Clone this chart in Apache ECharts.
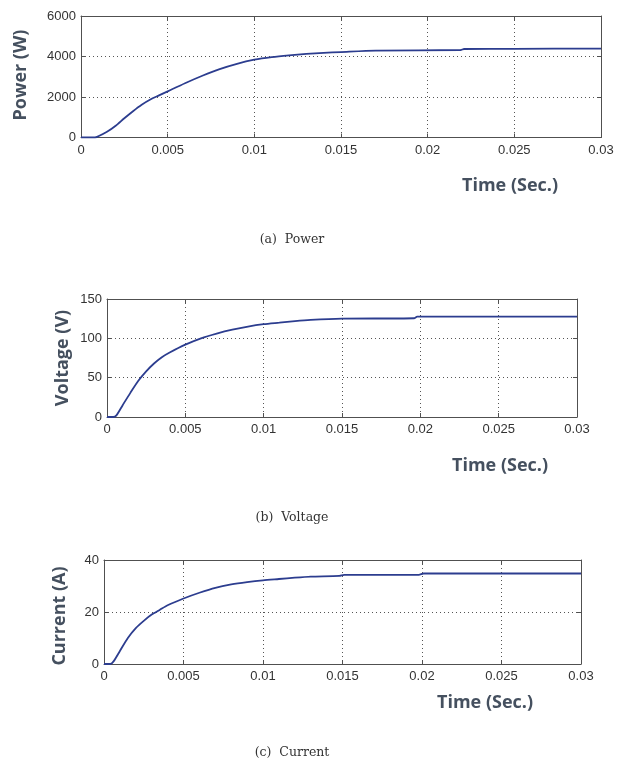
<!DOCTYPE html>
<html>
<head>
<meta charset="utf-8">
<script src="https://cdn.jsdelivr.net/npm/echarts@6/dist/echarts.min.js"></script>
<style>
html,body{margin:0;padding:0;background:#fff;}
#c{width:618px;height:765px;}
</style>
</head>
<body>
<div id="c"></div>
<script>
// ---- data ----
const xTicks = [0, 0.005, 0.01, 0.015, 0.02, 0.025, 0.03];

const timePower = [0, 0.0008, 0.001, 0.0015, 0.002, 0.0025, 0.003, 0.0035, 0.004, 0.0045, 0.005, 0.006, 0.007, 0.008, 0.009, 0.01, 0.011, 0.012, 0.013, 0.014, 0.015, 0.017, 0.0219, 0.0221, 0.025, 0.03];
const power =     [0, 0,      60,    280,    580,   950,    1300,  1620,   1880,  2080,   2280,  2680,  3050,  3380,  3640,  3840, 3970,  4060,  4130,  4180,  4220,  4290,  4320,   4370,   4380,  4390];

const timeVoltage = [0, 0.0004, 0.0006, 0.001, 0.0015, 0.002, 0.0025, 0.003, 0.0035, 0.004, 0.005, 0.006, 0.007, 0.008, 0.009, 0.01, 0.011, 0.012, 0.013, 0.015, 0.0196, 0.0198, 0.03];
const voltage =     [0, 0,      2,      15,    31,     46,    58,     68,    76,     82,    92,    100,   106,   111,   115,   118,  120,   122,   123.5, 125,   125.5,  127.5,  127.5];

const timeCurrent = [0, 0.0004, 0.0006, 0.001, 0.0015, 0.002, 0.0025, 0.003, 0.0035, 0.004, 0.005, 0.006, 0.007, 0.008, 0.009, 0.01, 0.011, 0.012, 0.013, 0.0148, 0.0151, 0.0198, 0.0201, 0.03];
const current =     [0, 0,      1,      5,     10,     13.8,  16.6,   19,    20.8,   22.6,  25.2,  27.4,  29.3,  30.6,  31.5,  32.2, 32.7,  33.2,  33.6,  33.9,   34.3,   34.3,   34.8,   34.8];

const yTicksPower = [0, 2000, 4000, 6000];
const yTicksVoltage = [0, 50, 100, 150];
const yTicksCurrent = [0, 20, 40];

const yNames = ['Power (W)', 'Voltage (V)', 'Current (A)'];
const xName = 'Time (Sec.)';
const captions = ['(a)  Power', '(b)  Voltage', '(c)  Current'];

// ---- layout ----
const grids = [
  {left: 81, top: 16, width: 520, height: 121.5},
  {left: 107, top: 299, width: 470, height: 118},
  {left: 104, top: 560, width: 477, height: 104}
];
const yRanges = [yTicksPower, yTicksVoltage, yTicksCurrent];
const series = [[timePower, power], [timeVoltage, voltage], [timeCurrent, current]];

const axisColor = '#505050';
const gridLine = {show: true, lineStyle: {color: '#555', type: [1, 3], width: 1}};
const labelFont = {color: '#333', fontFamily: 'Liberation Sans', fontSize: 13};

const option = {
  backgroundColor: '#fff',
  animation: false,
  grid: grids.map(g => Object.assign({containLabel: false}, g)),
  xAxis: [],
  yAxis: [],
  series: [],
  graphic: []
};

grids.forEach((g, i) => {
  const yt = yRanges[i];
  const xi = option.xAxis.length, yi = option.yAxis.length;
  option.xAxis.push({
    type: 'value', gridIndex: i, min: xTicks[0], max: xTicks[xTicks.length - 1], interval: xTicks[1] - xTicks[0],
    axisLine: {show: true, onZero: false, lineStyle: {color: axisColor, width: 1}},
    axisTick: {show: true, inside: true, length: 4, lineStyle: {color: axisColor}},
    axisLabel: Object.assign({margin: 6, formatter: v => String(+v.toFixed(4))}, labelFont),
    splitLine: gridLine
  });
  option.xAxis.push({
    type: 'value', gridIndex: i, position: 'top', min: xTicks[0], max: xTicks[xTicks.length - 1], interval: xTicks[1] - xTicks[0],
    axisLine: {show: true, onZero: false, lineStyle: {color: axisColor, width: 1}},
    axisTick: {show: true, inside: true, length: 4, lineStyle: {color: axisColor}},
    axisLabel: {show: false}, splitLine: {show: false}
  });
  option.yAxis.push({
    type: 'value', gridIndex: i, min: yt[0], max: yt[yt.length - 1], interval: yt[1] - yt[0],
    axisLine: {show: true, onZero: false, lineStyle: {color: axisColor, width: 1}},
    axisTick: {show: true, inside: true, length: 4, lineStyle: {color: axisColor}},
    axisLabel: Object.assign({margin: 5, formatter: v => String(v)}, labelFont),
    splitLine: gridLine
  });
  option.yAxis.push({
    type: 'value', gridIndex: i, position: 'right', min: yt[0], max: yt[yt.length - 1], interval: yt[1] - yt[0],
    axisLine: {show: true, onZero: false, lineStyle: {color: axisColor, width: 1}},
    axisTick: {show: true, inside: true, length: 4, lineStyle: {color: axisColor}},
    axisLabel: {show: false}, splitLine: {show: false}
  });
  const [t, v] = series[i];
  option.series.push({
    type: 'line', xAxisIndex: xi, yAxisIndex: yi,
    data: t.map((x, k) => [x, v[k]]),
    showSymbol: false, smooth: 0.25,
    lineStyle: {color: '#2c3d8f', width: 1.8},
    itemStyle: {color: '#2c3d8f'}
  });
});

// axis titles & captions
const yNamePos = [[21, 75], [63, 358], [60, 616]];
const xNamePos = [[510, 186], [500, 466], [485, 703]];
const capPos = [[292, 240], [292, 518], [292, 753]];
const nameFont = 'bold 18px "Open Sans", Lato, sans-serif';
yNames.forEach((n, i) => {
  option.graphic.push({
    type: 'text', x: yNamePos[i][0], y: yNamePos[i][1], rotation: Math.PI / 2,
    style: {text: n, font: nameFont, fill: '#45505f', align: 'center', verticalAlign: 'middle'}
  });
  option.graphic.push({
    type: 'text', x: xNamePos[i][0], y: xNamePos[i][1],
    style: {text: xName, font: nameFont, fill: '#45505f', align: 'center', verticalAlign: 'middle'}
  });
  option.graphic.push({
    type: 'text', x: capPos[i][0], y: capPos[i][1],
    style: {text: captions[i], font: '12.5px "DejaVu Serif", serif', fill: '#333', align: 'center', verticalAlign: 'middle'}
  });
});

const chart = echarts.init(document.getElementById('c'), null, {renderer: 'canvas'});
chart.setOption(option);
</script>
</body>
</html>
